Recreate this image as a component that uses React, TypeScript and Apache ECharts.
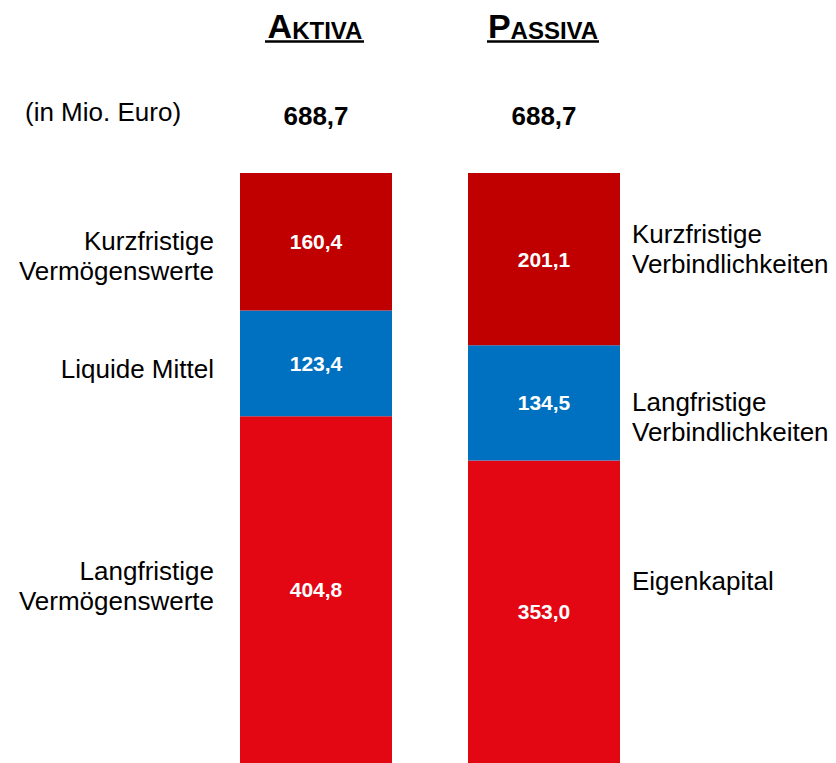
import React, { useEffect, useRef } from "react";
import * as echarts from "echarts";

const categories = ["Aktiva", "Passiva"];
const totals = [688.7, 688.7];
const bottomValues = [404.8, 353.0];
const middleValues = [123.4, 134.5];
const topValues = [160.4, 201.1];
const seriesNames = ["Langfristig", "Mittel", "Kurzfristig"];
const seriesColors = ["#E30613", "#0070C0", "#C00000"];
const titles = [["A", "KTIVA"], ["P", "ASSIVA"]];
const unitLabel = "(in Mio. Euro)";
const leftLabels = ["Kurzfristige\nVermögenswerte", "Liquide Mittel", "Langfristige\nVermögenswerte"];
const rightLabels = ["Kurzfristige\nVerbindlichkeiten", "Langfristige\nVerbindlichkeiten", "Eigenkapital"];

const FONT = '"Liberation Sans", Arial, sans-serif';
const fmt = (v: number) => v.toFixed(1).replace(".", ",");

export default function App() {
  const ref = useRef<HTMLDivElement>(null);
  useEffect(() => {
    if (!ref.current) return;
    const chart = echarts.init(ref.current, null, { renderer: "svg" });
    const barCenters = [316, 544];
    const titleSpans = [[265, 364], [487, 599]];
    const leftY = [256, 369, 586];
    const rightY = [249, 417, 581];

    const graphic: any[] = [];
    titles.forEach((t, i) => {
      graphic.push({
        type: "text",
        x: barCenters[i] - 1,
        y: 27,
        style: {
          text: `{b|${t[0]}}{s|${t[1]}}`,
          align: "center",
          verticalAlign: "middle",
          textAlign: "center",
          textVerticalAlign: "middle",
          fill: "#000",
          rich: {
            b: { fontSize: 34, fontWeight: "bold", fontFamily: FONT, lineHeight: 31, verticalAlign: "bottom", fill: "#000" },
            s: { fontSize: 24, fontWeight: "bold", fontFamily: FONT, lineHeight: 24, verticalAlign: "bottom", fill: "#000" },
          },
        },
      });
      graphic.push({
        type: "line",
        shape: { x1: titleSpans[i][0], y1: 41.5, x2: titleSpans[i][1], y2: 41.5 },
        style: { stroke: "#000", lineWidth: 2.5 },
      });
      graphic.push({
        type: "text",
        x: barCenters[i],
        y: 116,
        style: {
          text: fmt(totals[i]),
          align: "center",
          verticalAlign: "middle",
          textAlign: "center",
          textVerticalAlign: "middle",
          fontSize: 26,
          fontWeight: "bold",
          fontFamily: FONT,
          fill: "#000",
        },
      });
    });
    graphic.push({
      type: "text",
      x: 25,
      y: 112,
      style: {
        text: unitLabel,
        align: "left",
        verticalAlign: "middle",
        textAlign: "left",
        textVerticalAlign: "middle",
        fontSize: 26,
        fontFamily: FONT,
        fill: "#000",
      },
    });
    leftLabels.forEach((t, i) => {
      graphic.push({
        type: "text",
        x: 214,
        y: leftY[i],
        style: {
          text: t,
          align: "right",
          verticalAlign: "middle",
          textAlign: "right",
          textVerticalAlign: "middle",
          fontSize: 26,
          lineHeight: 30,
          fontFamily: FONT,
          fill: "#000",
        },
      });
    });
    rightLabels.forEach((t, i) => {
      graphic.push({
        type: "text",
        x: 632,
        y: rightY[i],
        style: {
          text: t,
          align: "left",
          verticalAlign: "middle",
          textAlign: "left",
          textVerticalAlign: "middle",
          fontSize: 26,
          lineHeight: 30,
          fontFamily: FONT,
          fill: "#000",
        },
      });
    });

    const dataSets = [bottomValues, middleValues, topValues];
    chart.setOption({
      animation: false,
      backgroundColor: "#ffffff",
      grid: { left: 202, top: 173, width: 456, bottom: -5, containLabel: false },
      xAxis: {
        type: "category",
        data: categories,
        show: false,
      },
      yAxis: { type: "value", min: 0, max: 688.6, show: false },
      series: dataSets.map((d, i) => ({
        name: seriesNames[i],
        type: "bar",
        stack: "total",
        barWidth: 152,
        data: d,
        itemStyle: { color: seriesColors[i] },
        label: {
          show: true,
          position: "inside",
          color: "#ffffff",
          fontSize: 21,
          fontWeight: "bold",
          fontFamily: FONT,
          formatter: (p: any) => fmt(p.value),
        },
        emphasis: { disabled: true },
      })),
      graphic,
    });
    return () => chart.dispose();
  }, []);
  return (
    <div
      ref={ref}
      style={{ position: "fixed", left: 0, top: 0, width: 836, height: 763, background: "#fff" }}
    />
  );
}
